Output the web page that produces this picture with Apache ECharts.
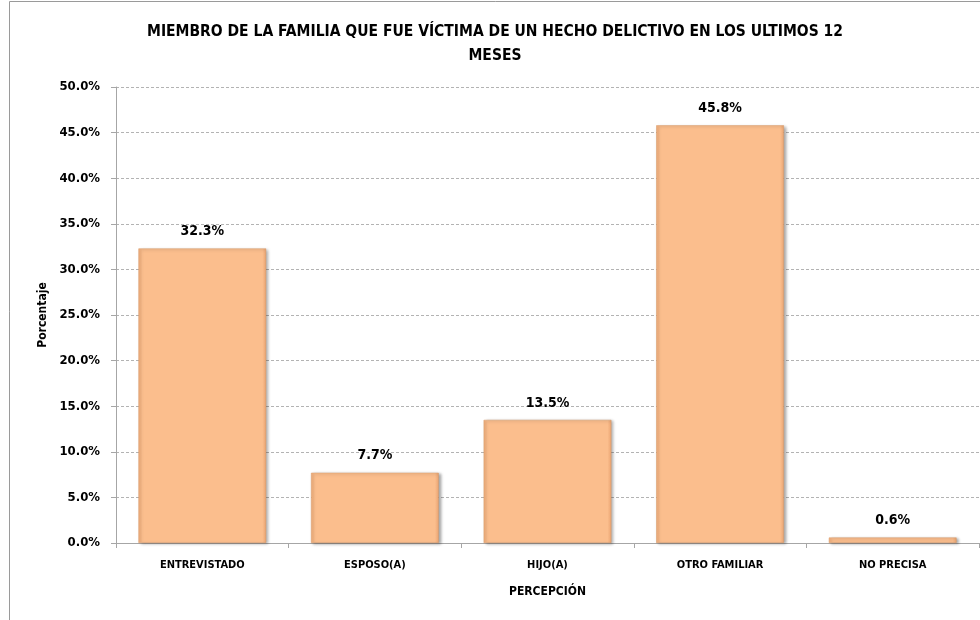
<!DOCTYPE html>
<html>
<head>
<meta charset="utf-8">
<script src="https://cdn.jsdelivr.net/npm/echarts@6/dist/echarts.min.js"></script>
<style>
  html, body { margin: 0; padding: 0; background: #fff; }
  #chart { width: 980px; height: 620px; }
</style>
</head>
<body>
<div id="chart"></div>
<script>
// categorías del eje X
const categories = ['ENTREVISTADO', 'ESPOSO(A)', 'HIJO(A)', 'OTRO FAMILIAR', 'NO PRECISA']
// porcentajes
const values = [32.3, 7.7, 13.5, 45.8, 0.6]
// escala del eje Y
const yMin = 0
const yMax = 50
const yStep = 5

const font = '"Liberation Sans Narrow", "Arial Narrow", "DejaVu Sans Condensed", sans-serif'

const chart = echarts.init(document.getElementById('chart'))

chart.setOption({
  animation: false,
  title: {
    text: 'MIEMBRO DE LA FAMILIA QUE FUE VÍCTIMA DE UN HECHO DELICTIVO EN LOS ULTIMOS 12\nMESES',
    left: 490,
    top: 15,
    textAlign: 'center',
    textStyle: {
      fontFamily: font,
      fontSize: 15.5,
      fontWeight: 'bold',
      color: '#000',
      lineHeight: 24
    }
  },
  graphic: [{
    type: 'rect',
    shape: { x: 9.5, y: 1.5, width: 1000, height: 700 },
    style: { fill: 'none', stroke: '#9a9a9a', lineWidth: 1 },
    silent: true,
    z: -1
  }],
  grid: {
    left: 116,
    right: 1,
    top: 87,
    bottom: 77
  },
  xAxis: {
    type: 'category',
    data: categories,
    name: 'PERCEPCIÓN',
    nameLocation: 'middle',
    nameGap: 43,
    nameTextStyle: {
      fontFamily: font,
      fontSize: 12,
      fontWeight: 'bold',
      color: '#000'
    },
    axisLine: { lineStyle: { color: '#a6a6a6', width: 1 } },
    axisTick: { show: true, length: 5, lineStyle: { color: '#a6a6a6' } },
    axisLabel: {
      fontFamily: font,
      fontSize: 11,
      fontWeight: 'bold',
      color: '#000',
      margin: 17
    }
  },
  yAxis: {
    type: 'value',
    min: yMin,
    max: yMax,
    interval: yStep,
    name: 'Porcentaje',
    nameLocation: 'middle',
    nameGap: 63,
    nameTextStyle: {
      fontFamily: font,
      fontSize: 12,
      fontWeight: 'bold',
      color: '#000'
    },
    axisLine: { show: true, lineStyle: { color: '#a6a6a6' } },
    axisTick: { show: true, length: 5, lineStyle: { color: '#a6a6a6' } },
    splitLine: {
      lineStyle: { color: '#b3b3b3', type: [3, 2] }
    },
    axisLabel: {
      fontFamily: font,
      fontSize: 13,
      fontWeight: 'bold',
      color: '#000',
      margin: 16,
      formatter: v => v.toFixed(1) + '%'
    }
  },
  series: [{
    type: 'bar',
    data: values,
    barCategoryGap: '26%',
    itemStyle: {
      color: new echarts.graphic.LinearGradient(0, 0, 1, 0, [
        { offset: 0, color: '#f1ad7a' },
        { offset: 0.03, color: '#fbbe8d' },
        { offset: 0.97, color: '#fbbe8d' },
        { offset: 1, color: '#eaa472' }
      ]),
      borderColor: '#d99a68',
      borderWidth: 0.5,
      shadowColor: 'rgba(0,0,0,0.35)',
      shadowBlur: 3,
      shadowOffsetX: 2,
      shadowOffsetY: 1
    },
    label: {
      show: true,
      position: 'top',
      distance: 10,
      fontFamily: font,
      fontSize: 14,
      fontWeight: 'bold',
      color: '#000',
      formatter: p => p.value.toFixed(1) + '%'
    }
  }]
})
</script>
</body>
</html>
